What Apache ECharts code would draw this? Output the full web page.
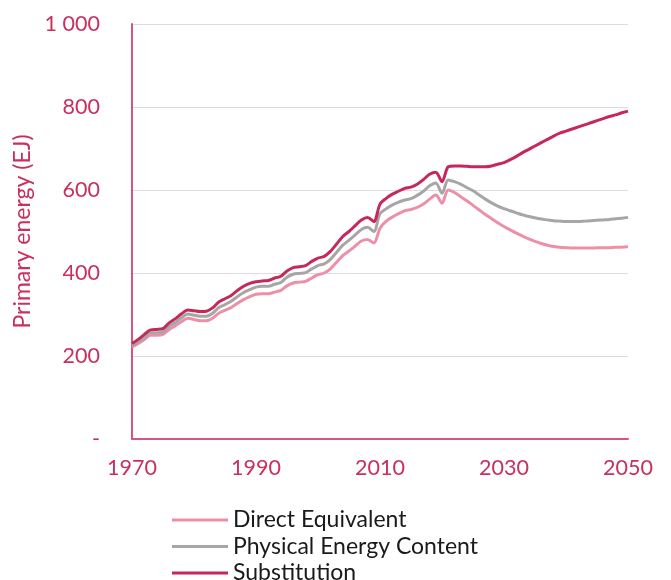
<!DOCTYPE html>
<html><head><meta charset="utf-8">
<script src="https://cdn.jsdelivr.net/npm/echarts@6/dist/echarts.min.js"></script>
<style>html,body{margin:0;padding:0;background:#fff}#c{width:671px;height:580px}</style>
</head><body><div id="c"></div>
<script>
const startYear = 1970;
const seriesNames = ["Direct Equivalent", "Physical Energy Content", "Substitution"];
const directEquivalent = [222,230,240,250,250,252,264,273,283,291,288,285,285,291,303,310,317,327,336,343,349,350,350,354,358,369,376,378,380,388,396,400,410,426,442,453,465,477,481,472,508,525,535,543,550,553,558,566,578,588,568,600,594,584,574,563,552,541,531,521,512,504,496,489,482,476,471,467,464,462,461,460,460,460,460,461,461,461,462,462,463];
const physicalEnergy = [225,234,245,256,256,258,272,281,292,301,298,296,296,303,317,324,332,343,353,360,366,368,368,373,377,390,397,399,401,410,418,422,433,450,467,479,492,505,510,500,543,555,564,571,576,579,587,597,610,617,592,624,620,614,606,598,588,578,569,561,555,550,545,540,536,533,530,528,526,525,524,524,524,525,526,527,528,529,531,532,534];
const substitution = [230,240,252,263,264,266,280,290,302,311,309,307,308,316,330,338,346,358,368,375,379,381,382,388,392,405,413,415,418,428,436,440,452,470,488,500,514,528,534,524,566,580,590,597,604,607,614,625,638,643,620,656,658,658,657,656,656,656,658,662,666,673,681,690,698,706,714,722,730,737,742,747,752,757,762,767,772,777,781,786,790];
const colors = ["#EC90A8", "#A6A6A6", "#C5285A"];
const accent = "#C9305E";
const legendCenters = [520, 546.5, 573];

function pairs(arr){ return arr.map((v,i)=>[startYear+i, v]); }
const allData = [directEquivalent, physicalEnergy, substitution];

const chart = echarts.init(document.getElementById('c'));
chart.setOption({
  animation:false,
  textStyle:{fontFamily:'Lato'},
  grid:{left:132, right:43, top:24, bottom:141},
  legend: seriesNames.map((n,i)=>({
    orient:'horizontal', left:172, top:legendCenters[i]-13, padding:0,
    itemWidth:56, itemHeight:3, icon:'rect',
    textStyle:{fontSize:23, color:'#1a1a1a', fontFamily:'Lato', lineHeight:26},
    data:[n]
  })),
  xAxis:{
    type:'value', min:1970, max:2050, interval:20,
    axisLine:{lineStyle:{color:'#D4557D', width:2}},
    axisTick:{show:false},
    splitLine:{show:false},
    axisLabel:{fontSize:21.5, color:accent, margin:18, fontFamily:'Lato', formatter:v=>String(v)}
  },
  yAxis:{
    type:'value', min:0, max:1000, interval:200,
    name:'Primary energy (EJ)', nameLocation:'middle', nameGap:88,
    nameTextStyle:{fontSize:23, color:accent, fontFamily:'Lato'},
    axisLine:{show:true, lineStyle:{color:'#D4557D', width:2}},
    axisTick:{show:false},
    splitLine:{lineStyle:{color:'#DCDCDC', width:1}},
    axisLabel:{fontSize:21.5, color:accent, margin:32, fontFamily:'Lato',
      formatter:v=> v===0 ? '-' : (v>=1000 ? '1 000' : String(v))}
  },
  series: seriesNames.map((n,i)=>({
    name:n, type:'line', data:pairs(allData[i]), showSymbol:false, smooth:0.3,
    lineStyle:{width:3, color:colors[i]}, itemStyle:{color:colors[i]}
  }))
});
</script></body></html>
